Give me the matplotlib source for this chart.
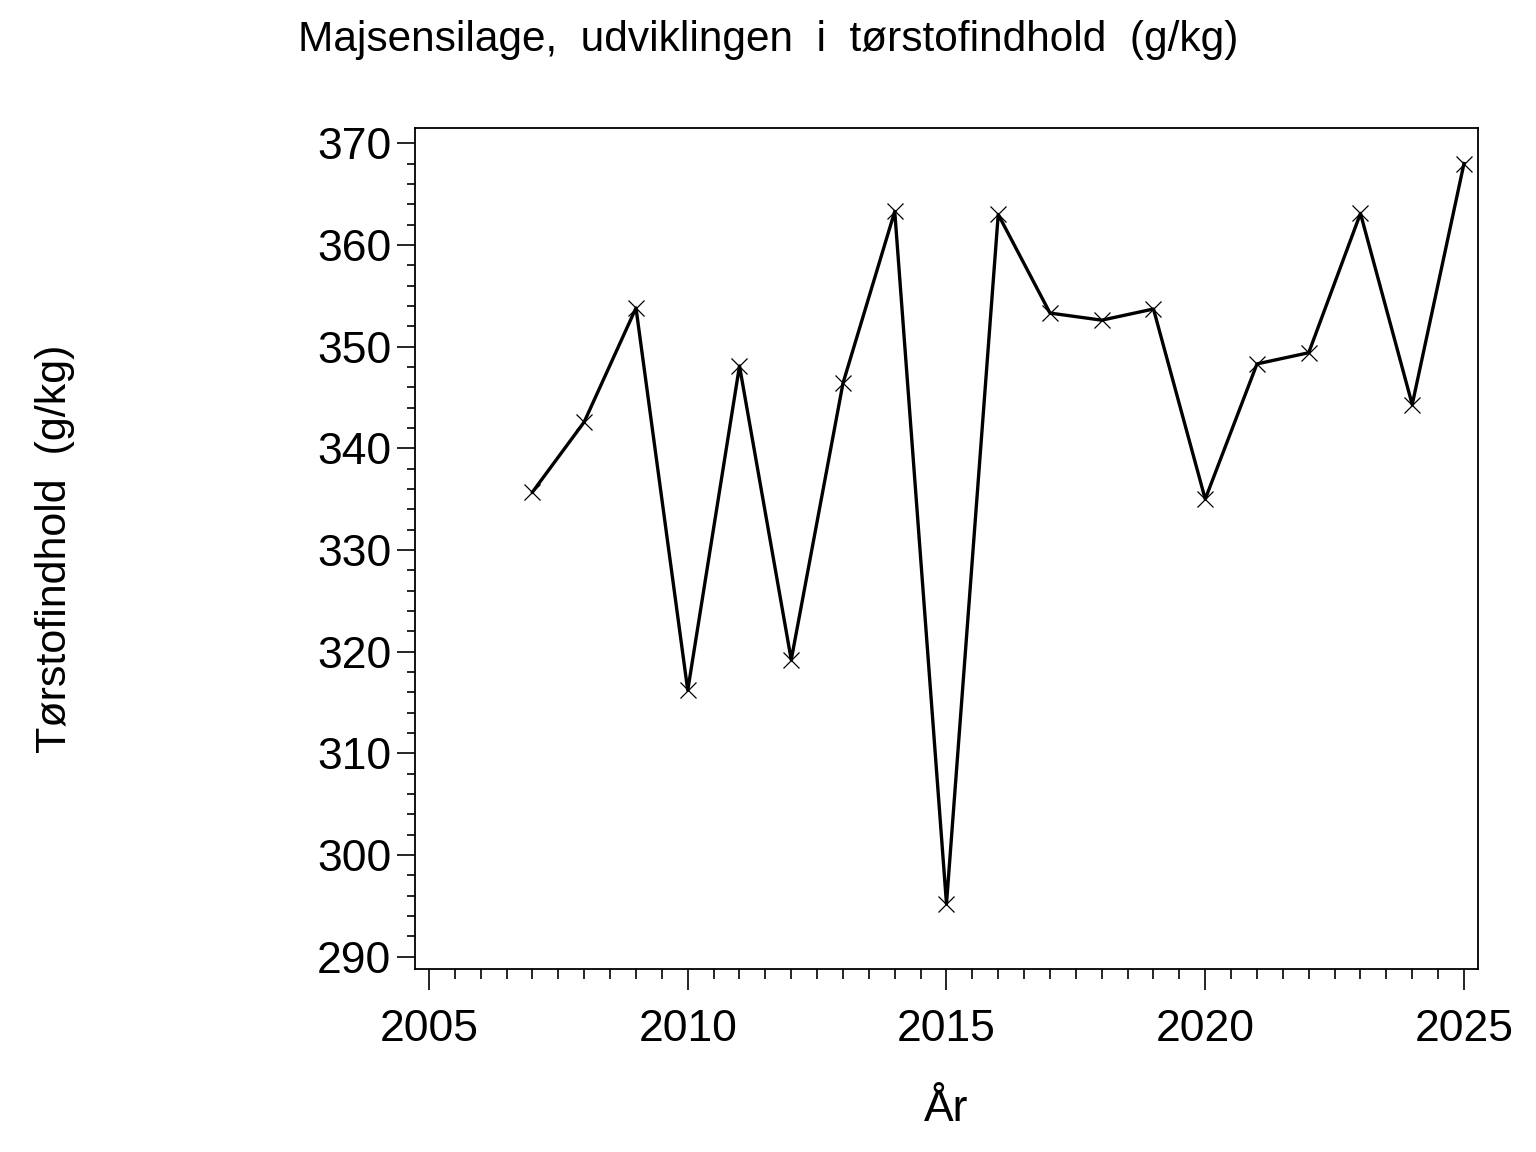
import matplotlib
matplotlib.use("Agg")
from matplotlib import pyplot as plt
from matplotlib.ticker import MultipleLocator

# Tørstofindhold i majsensilage pr. år
years = [2007, 2008, 2009, 2010, 2011, 2012, 2013, 2014, 2015, 2016,
         2017, 2018, 2019, 2020, 2021, 2022, 2023, 2024, 2025]
dm_values = [335.7, 342.6, 353.8, 316.2, 348.1, 319.2, 346.4, 363.3, 295.2, 363.0,
             353.3, 352.6, 353.7, 335.0, 348.3, 349.4, 363.1, 344.3, 368.0]

x_ticks = [2005, 2010, 2015, 2020, 2025]
y_ticks = [290, 300, 310, 320, 330, 340, 350, 360, 370]

plt.rcParams['font.family'] = ['Liberation Sans', 'DejaVu Sans']

fig = plt.figure(figsize=(15.36, 11.52), dpi=100)
ax = fig.add_axes([0.2702, 0.1589, 0.692, 0.73])

ax.plot(years, dm_values, color='black', linewidth=2.4,
        marker='x', markersize=12, markeredgewidth=0.9)

ax.set_xlim(2004.73, 2025.27)
ax.set_ylim(288.8, 371.5)
ax.set_xticks(x_ticks)
ax.set_yticks(y_ticks)
ax.xaxis.set_minor_locator(MultipleLocator(0.5))
ax.yaxis.set_minor_locator(MultipleLocator(2))

ax.tick_params(axis='both', which='major', direction='out', labelsize=32,
               width=1.2, colors='black')
ax.tick_params(axis='x', which='major', length=15, pad=14)
ax.tick_params(axis='y', which='major', length=13, pad=4)
ax.tick_params(axis='x', which='minor', length=7, width=1.2)
ax.tick_params(axis='y', which='minor', length=6, width=1.2)

for spine in ax.spines.values():
    spine.set_linewidth(1.3)

ax.set_xlabel('År', fontsize=32, labelpad=28)
fig.text(0.036, 0.524, 'Tørstofindhold  (g/kg)', rotation=90, fontsize=31,
         ha='center', va='center')
fig.text(0.5, 0.965, 'Majsensilage,  udviklingen  i  tørstofindhold  (g/kg)',
         fontsize=30.5, ha='center', va='center')

fig.savefig('out.png', dpi=100)
